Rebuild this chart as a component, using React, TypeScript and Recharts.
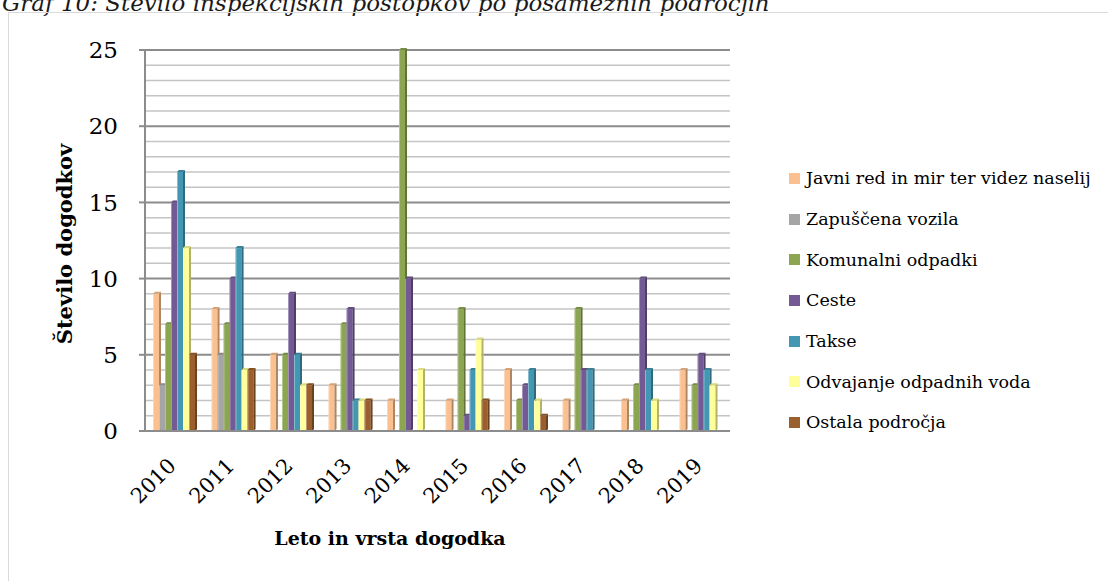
import { BarChart, Bar, XAxis, YAxis, CartesianGrid, Label } from 'recharts';

const years = ['2010', '2011', '2012', '2013', '2014', '2015', '2016', '2017', '2018', '2019'];

const javniRed = [9, 8, 5, 3, 2, 2, 4, 2, 2, 4];
const zapuscenaVozila = [3, 5, 0, 0, 0, 0, 0, 0, 0, 0];
const komunalniOdpadki = [7, 7, 5, 7, 25, 8, 2, 8, 3, 3];
const ceste = [15, 10, 9, 8, 10, 1, 3, 4, 10, 5];
const takse = [17, 12, 5, 2, 0, 4, 4, 4, 4, 4];
const odvajanje = [12, 4, 3, 2, 4, 6, 2, 0, 2, 3];
const ostala = [5, 4, 3, 2, 0, 2, 1, 0, 0, 0];

const seriesNames = [
  'Javni red in mir ter videz naselij',
  'Zapuščena vozila',
  'Komunalni odpadki',
  'Ceste',
  'Takse',
  'Odvajanje odpadnih voda',
  'Ostala področja',
];
const seriesColors = ['#FAC08F', '#A5A5A5', '#8CA550', '#735A94', '#4397B2', '#FFFF99', '#9A5F2D'];
const seriesValues = [javniRed, zapuscenaVozila, komunalniOdpadki, ceste, takse, odvajanje, ostala];

const yTicks = [0, 1, 2, 3, 4, 5, 6, 7, 8, 9, 10, 11, 12, 13, 14, 15, 16, 17, 18, 19, 20, 21, 22, 23, 24, 25];

const data = years.map((year, i) => {
  const row: Record<string, string | number> = { year };
  seriesNames.forEach((name, s) => {
    row[name] = seriesValues[s][i];
  });
  return row;
});

const FONT = '"DejaVu Serif", serif';

// column with a little fake 3D side and top
function Bar3D(props: any) {
  const { x, y, width, height, fill } = props;
  if (!height || height <= 0) return <g />;
  const d = 2;
  const side = `${x + width},${y} ${x + width + d},${y - d} ${x + width + d},${y + height - d} ${x + width},${y + height}`;
  const top = `${x},${y} ${x + d},${y - d} ${x + width + d},${y - d} ${x + width},${y}`;
  return (
    <g>
      <rect x={x} y={y} width={width} height={height} fill={fill} />
      <rect x={x} y={y} width={1} height={height} fill="#fff" fillOpacity={0.35} />
      <polygon points={side} fill={fill} />
      <polygon points={side} fill="#000" fillOpacity={0.3} />
      <polygon points={top} fill={fill} />
      <polygon points={top} fill="#000" fillOpacity={0.15} />
    </g>
  );
}

function YTick({ x, y, payload }: any) {
  if (payload.value % 5 !== 0) return <g />;
  return (
    <g>
      <line x1={x + 21} x2={x + 27} y1={y} y2={y} stroke="#8c8c8c" strokeWidth={2} />
      <text x={x} y={y} dy="0.36em" textAnchor="end" fontFamily={FONT} fontSize={23} fill="#000">
        {payload.value}
      </text>
    </g>
  );
}

function YearTick({ x, y, payload }: any) {
  const px = x + 3;
  const py = y + 36;
  return (
    <text x={px} y={py} transform={`rotate(-45 ${px} ${py})`} textAnchor="end" fontFamily={FONT} fontSize={21} fill="#000">
      {payload.value}
    </text>
  );
}

function gridLine(props: any) {
  const { x1, x2, y1, y2, index } = props;
  const major = index % 5 === 0;
  return (
    <line
      key={`g-${index}`}
      x1={x1}
      x2={x2}
      y1={y1}
      y2={y2}
      stroke={major ? '#8c8c8c' : '#c4c4c4'}
      strokeWidth={major ? 2 : 1.5}
    />
  );
}

export default function App() {
  return (
    <div
      style={{
        position: 'absolute',
        left: 0,
        top: 0,
        width: 1108,
        height: 581,
        overflow: 'hidden',
        background: '#fff',
        fontFamily: FONT,
      }}
    >
      <div
        style={{
          position: 'absolute',
          left: 2,
          top: -10,
          fontStyle: 'italic',
          fontSize: 23,
          color: '#1a1a1a',
          whiteSpace: 'nowrap',
        }}
      >
        Graf 10: Število inšpekcijskih postopkov po posameznih področjih
      </div>
      <div
        style={{
          position: 'absolute',
          left: 8,
          top: 12,
          width: 1200,
          height: 700,
          border: '1.5px solid #d9d9d9',
        }}
      />
      <div style={{ position: 'absolute', left: 0, top: 0 }}>
        <BarChart
          width={1108}
          height={581}
          data={data}
          margin={{ top: 50, right: 378, bottom: 120, left: 85 }}
          barGap={0}
          barSize={6}
        >
          <CartesianGrid vertical={false} horizontal={gridLine} />
          <XAxis
            dataKey="year"
            interval={0}
            tickLine={false}
            tickSize={0}
            tickMargin={0}
            height={30}
            axisLine={{ stroke: '#8c8c8c', strokeWidth: 2 }}
            tick={<YearTick />}
          >
            <Label
              value="Leto in vrsta dogodka"
              content={() => (
                <text x={390} y={545} textAnchor="middle" fontFamily={FONT} fontWeight="bold" fontSize={19} fill="#000">
                  Leto in vrsta dogodka
                </text>
              )}
            />
          </XAxis>
          <YAxis
            domain={[0, 25]}
            ticks={yTicks}
            interval={0}
            width={60}
            tickLine={false}
            tickSize={6}
            tickMargin={21}
            axisLine={{ stroke: '#8c8c8c', strokeWidth: 2 }}
            tick={<YTick />}
          >
            <Label
              value="Število dogodkov"
              content={() => (
                <text
                  x={64}
                  y={244}
                  transform="rotate(-90 64 244)"
                  textAnchor="middle"
                  dominantBaseline="central"
                  fontFamily={FONT}
                  fontWeight="bold"
                  fontSize={21}
                  fill="#000"
                >
                  Število dogodkov
                </text>
              )}
            />
          </YAxis>
          {seriesNames.map((name, s) => (
            <Bar key={name} dataKey={name} fill={seriesColors[s]} shape={<Bar3D />} isAnimationActive={false} />
          ))}
        </BarChart>
      </div>
      <div style={{ position: 'absolute', left: 789, top: 158 }}>
        {seriesNames.map((name, s) => (
          <div key={name} style={{ display: 'flex', alignItems: 'center', height: 40.7, whiteSpace: 'nowrap' }}>
            <span style={{ width: 11, height: 11, background: seriesColors[s], marginRight: 6, flex: 'none' }} />
            <span style={{ fontSize: 17.5, color: '#000' }}>{name}</span>
          </div>
        ))}
      </div>
    </div>
  );
}
